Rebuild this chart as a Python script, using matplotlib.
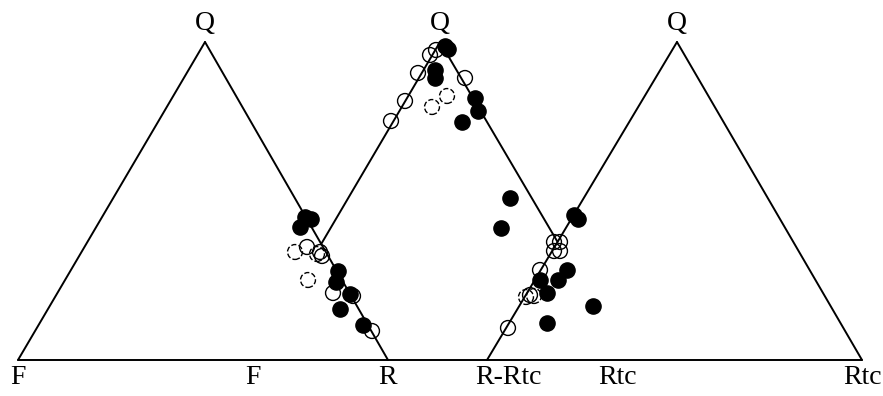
import matplotlib
matplotlib.use('Agg')
import matplotlib.pyplot as plt

# triangle corners, in picture units (x right, y down)
base_y = 360
apex_y = 42
left_tri = [(18, base_y), (205, apex_y), (388, base_y)]
mid_tri = [(253, base_y), (440, apex_y), (627, base_y)]
right_tri = [(487, base_y), (677, apex_y), (862, base_y)]

apex_labels = ['Q', 'Q', 'Q']
base_labels = ['F', 'F', 'R', 'R-Rtc', 'Rtc', 'Rtc']
base_label_x = [18, 253, 388, 508, 617, 862]

# samples
filled_x = [305, 311, 300, 338, 336, 350, 340, 363,
            445, 448, 435, 435, 475, 478, 462,
            510, 501, 574, 578, 540, 567, 558, 547, 593, 547]
filled_y = [217, 219, 227, 271, 282, 294, 309, 325,
            46, 49, 70, 78, 98, 111, 122,
            198, 228, 215, 219, 280, 270, 280, 293, 306, 323]

open_x = [307, 320, 322, 333, 353, 372,
          430, 436, 418, 405, 391, 465,
          554, 560, 554, 560, 540, 530, 508]
open_y = [247, 252, 256, 293, 296, 331,
          55, 50, 73, 101, 121, 78,
          242, 242, 251, 251, 270, 295, 328]

dashed_x = [295, 308, 317, 447, 432, 526, 534]
dashed_y = [252, 280, 254, 96, 107, 297, 296]


def line(ax, p, q):
    ax.plot([p[0], q[0]], [p[1], q[1]], color='black', lw=1.4,
            solid_capstyle='round', zorder=1)


def crossing(a1, a2, b1, b2):
    # point where segment a meets segment b
    (x1, y1), (x2, y2) = a1, a2
    (x3, y3), (x4, y4) = b1, b2
    d = (x1 - x2) * (y3 - y4) - (y1 - y2) * (x3 - x4)
    t = ((x1 - x3) * (y3 - y4) - (y1 - y3) * (x3 - x4)) / d
    return (x1 + t * (x2 - x1), y1 + t * (y2 - y1))


fig = plt.figure(figsize=(8.83, 3.96), dpi=100)
ax = fig.add_axes([0, 0, 1, 1])
ax.set_xlim(0, 883)
ax.set_ylim(396, 0)
ax.axis('off')

# common base line
line(ax, left_tri[0], right_tri[2])
# outer triangles
line(ax, left_tri[0], left_tri[1])
line(ax, left_tri[1], left_tri[2])
line(ax, right_tri[0], right_tri[1])
line(ax, right_tri[1], right_tri[2])
# middle triangle, only down to where it meets the others
p_left = crossing(mid_tri[1], mid_tri[0], left_tri[1], left_tri[2])
p_right = crossing(mid_tri[1], mid_tri[2], right_tri[0], right_tri[1])
line(ax, mid_tri[1], p_left)
line(ax, mid_tri[1], p_right)

font = dict(family='Liberation Serif', fontsize=20, color='black')
for tri, lab in zip([left_tri, mid_tri, right_tri], apex_labels):
    ax.text(tri[1][0], tri[1][1] - 6, lab, ha='center', va='bottom', **font)
for x, lab in zip(base_label_x, base_labels):
    ax.text(x, base_y + 5, lab, ha='center', va='top', **font)

ax.scatter(open_x, open_y, s=115, facecolors='none', edgecolors='black',
           linewidths=1.0, zorder=2)
ax.scatter(dashed_x, dashed_y, s=115, facecolors='none', edgecolors='black',
           linewidths=1.0, linestyles='--', zorder=2)
ax.scatter(filled_x, filled_y, s=120, color='black', zorder=3)

fig.savefig('out.png', dpi=100)
